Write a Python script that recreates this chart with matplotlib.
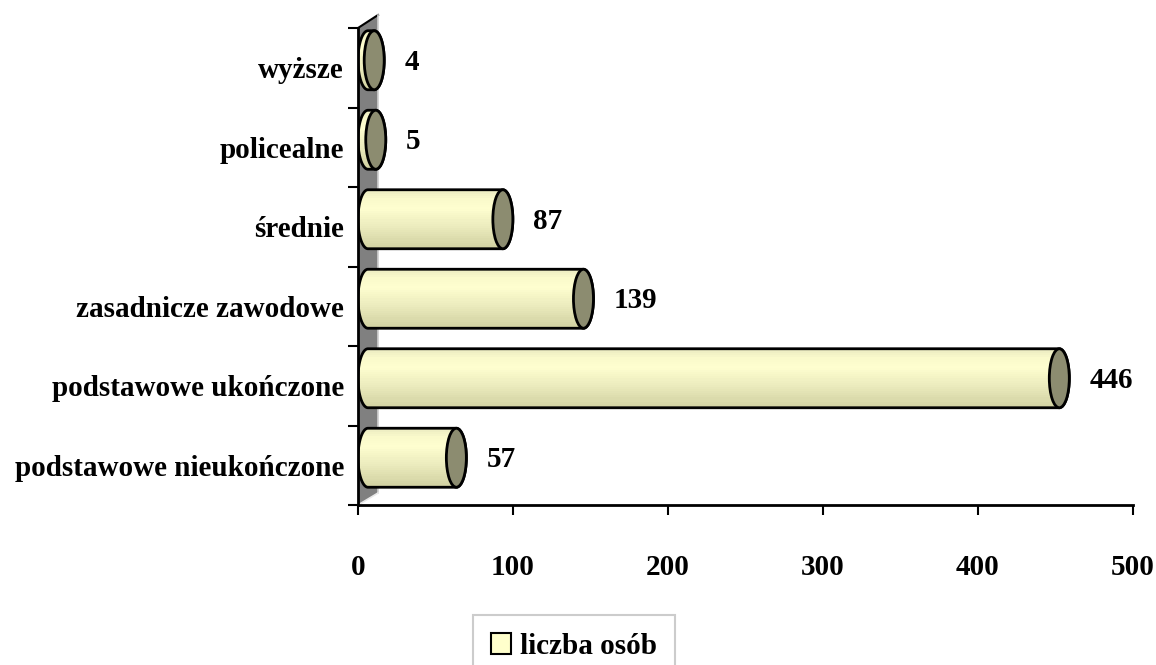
import numpy as np
import matplotlib
matplotlib.use("Agg")
import matplotlib.pyplot as plt
from matplotlib.patches import Polygon, Ellipse, Patch
from matplotlib.colors import LinearSegmentedColormap

categories = ["podstawowe nieukończone", "podstawowe ukończone", "zasadnicze zawodowe",
              "średnie", "policealne", "wyższe"]
values = [57, 446, 139, 87, 5, 4]
xticks = [0, 100, 200, 300, 400, 500]
legend_label = "liczba osób"

plt.rcParams["font.family"] = ["Liberation Serif", "DejaVu Serif"]
plt.rcParams["font.weight"] = "bold"
fs = 21

W, H = 1156, 665
fig = plt.figure(figsize=(W / 100, H / 100), dpi=100)
ax = fig.add_axes([358 / W, 1 - 505 / H, 775 / W, 477 / H])
ax.set_xlim(0, 500)
ax.set_ylim(0, len(categories))

# pixel -> data units
ux = 500 / 775
uy = len(categories) / 477

# back wall (3D depth)
wall = Polygon([(0, 0), (20 * ux, 12 * uy), (20 * ux, 6 + 13 * uy), (0, 6)],
               closed=True, facecolor="#808080", edgecolor="none", clip_on=False, zorder=1)
ax.add_patch(wall)
ax.plot([0, 20 * ux], [6, 6 + 13 * uy], color="black", lw=1.5, clip_on=False, zorder=2)
ax.plot([20 * ux, 20 * ux], [12 * uy, 6 + 13 * uy], color="#d0d0d0", lw=1.2, clip_on=False, zorder=2)
ax.plot([0, 20 * ux], [0, 12 * uy], color="#e8e8e8", lw=1.2, clip_on=False, zorder=2)

cmap = LinearSegmentedColormap.from_list(
    "cyl", [(0.0, "#d2d2a2"), (0.35, "#eaeabc"), (0.7, "#ffffd0"), (0.85, "#fbfbcc"), (1.0, "#ececc2")])
grad = cmap(np.linspace(0, 1, 28))[::-1, None, :]

a = 10 * ux          # cap half-width
h = 29.5 * uy        # bar half-height
dx = 10 * ux
dy = 7.5 * uy

for i, v in enumerate(values):
    yc = i + 0.5 + dy
    x0 = dx
    x1 = v + dx
    t1 = np.linspace(np.pi / 2, -np.pi / 2, 60)
    t2 = np.linspace(-np.pi / 2, -3 * np.pi / 2, 60)
    pts = np.vstack([
        np.column_stack([x1 + a * np.cos(t1), yc + h * np.sin(t1)]),
        np.column_stack([x0 + a * np.cos(t2), yc + h * np.sin(t2)]),
    ])
    body = Polygon(pts, closed=True, facecolor="none", edgecolor="black", lw=2, zorder=4)
    ax.add_patch(body)
    im = ax.imshow(grad, extent=[x0 - a, x1 + a, yc - h, yc + h], aspect="auto",
                   interpolation="nearest", zorder=3)
    im.set_clip_path(body)
    cap = Ellipse((x1, yc), 2 * a, 2 * h, facecolor="#8c8c70", edgecolor="black", lw=2, zorder=5)
    ax.add_patch(cap)
    ax.text(v + 40 * ux, yc - 2 * uy, str(v), ha="left", va="center", fontsize=fs, fontweight="bold")

ax.spines["top"].set_visible(False)
ax.spines["right"].set_visible(False)
ax.spines["left"].set_linewidth(2)
ax.spines["bottom"].set_linewidth(2)
ax.spines["left"].set_zorder(6)

ax.set_xticks(xticks)
ax.set_xticklabels([str(x) for x in xticks], fontsize=fs, fontweight="bold")
ax.tick_params(axis="x", direction="out", length=7.5, width=1.5, pad=28)

ax.set_yticks(np.arange(len(categories) + 1))
ax.set_yticklabels([])
ax.set_yticks(np.arange(len(categories)) + 0.5, minor=True)
ax.set_yticklabels(categories, minor=True, fontsize=fs, fontweight="bold")
ax.tick_params(axis="y", which="major", direction="out", length=7, width=1.5)
ax.tick_params(axis="y", which="minor", length=0, pad=10)

handle = Patch(facecolor="#ffffcc", edgecolor="black", lw=1.5)
leg = fig.legend([handle], [legend_label], loc="center", bbox_to_anchor=(574 / W, 1 - 646 / H),
                 prop={"weight": "bold", "size": fs}, frameon=True, fancybox=False,
                 handlelength=0.7, handleheight=0.7, handletextpad=0.3, borderpad=0.6)
leg.get_frame().set_edgecolor("#c0c0c0")
leg.get_frame().set_linewidth(1.5)

fig.savefig("out.png", dpi=100, facecolor="white")
